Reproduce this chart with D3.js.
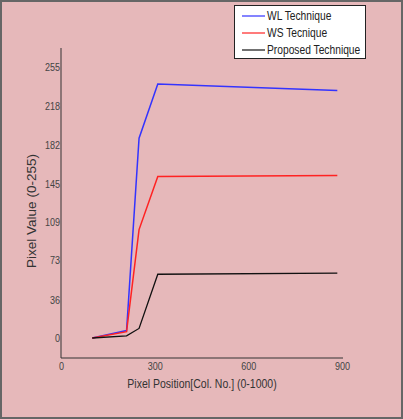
<!DOCTYPE html>
<html><head><meta charset="utf-8">
<script src="https://cdn.jsdelivr.net/npm/d3@7"></script>
<style>
html,body{margin:0;padding:0;background:#e6b8ba;}
svg{display:block;}
</style></head>
<body>
<script>
const xVals = [100, 210, 250, 310, 885];
const wlValues = [0, 7, 188, 239, 233];
const wsValues = [0, 6, 102, 152, 153];
const propValues = [0, 2, 9, 60, 61];
const seriesNames = ["WL Technique", "WS Tecnique", "Proposed Technique"];
const seriesColors = ["#3333ff", "#ff2222", "#111111"];
const xTicks = [0, 300, 600, 900];
const yTicks = [0, 36, 73, 109, 145, 182, 218, 255];

const W = 403, H = 419;
const svg = d3.select("body").append("svg").attr("width", W).attr("height", H);
svg.append("rect").attr("x",1).attr("y",1).attr("width",W-2).attr("height",H-2)
  .attr("fill","#e6b8ba").attr("stroke","#666").attr("stroke-width",2);

const fam = "'Liberation Sans',Arial,sans-serif";
function condense(sel, f) {
  sel.each(function() {
    const l = this.getComputedTextLength();
    d3.select(this).attr("textLength", l * f).attr("lengthAdjust", "spacingAndGlyphs");
  });
}
const x = d3.scaleLinear().domain([0, 900]).range([61, 342]);
const y = d3.scaleLinear().domain([0, 255]).range([338, 67]);
const yBottom = 358, yTop = 48;

const xAxis = svg.append("g").attr("transform", `translate(0,${yBottom})`)
  .call(d3.axisBottom(x).tickValues(xTicks).tickSize(0).tickPadding(4).tickFormat(d3.format("d")));
const yAxis = svg.append("g").attr("transform", `translate(61,0)`)
  .call(d3.axisLeft(y).tickValues(yTicks).tickSize(0).tickPadding(1).tickFormat(d3.format("d")));
[xAxis, yAxis].forEach(a => {
  a.select(".domain").remove();
  a.selectAll("text").attr("font-family", fam).attr("font-size", 11).attr("fill", "#444");
  condense(a.selectAll("text"), 0.82);
});
svg.append("line").attr("x1",61).attr("x2",61).attr("y1",yTop).attr("y2",yBottom).attr("stroke","#333");
svg.append("line").attr("x1",61).attr("x2",343).attr("y1",yBottom).attr("y2",yBottom).attr("stroke","#333");

const line = d3.line().x((d,i) => x(xVals[i])).y(d => y(d));
[wlValues, wsValues, propValues].forEach((vals, k) => {
  svg.append("path").attr("d", line(vals)).attr("fill","none")
    .attr("stroke", seriesColors[k]).attr("stroke-width", k===2 ? 1.3 : 1.5);
});

const xt = svg.append("text").attr("x", 202).attr("y", 388).attr("text-anchor","middle")
  .attr("font-family", fam).attr("font-size", 12.5).attr("fill","#333")
  .text("Pixel Position[Col. No.] (0-1000)");
condense(xt, 0.84);
svg.append("text").attr("transform","translate(36,211) rotate(-90)").attr("text-anchor","middle")
  .attr("font-family",fam).attr("font-size", 13.5).attr("fill","#333")
  .text("Pixel Value (0-255)");

const lg = svg.append("g");
lg.append("rect").attr("x",234.5).attr("y",5.5).attr("width",131).attr("height",53)
  .attr("fill","#fff").attr("stroke","#222");
seriesNames.forEach((n,i) => {
  const yy = 16 + i*17;
  lg.append("line").attr("x1",242).attr("x2",265).attr("y1",yy).attr("y2",yy)
    .attr("stroke", seriesColors[i]).attr("stroke-width",1.2);
  const t = lg.append("text").attr("x",267).attr("y",yy+4).attr("font-family",fam)
    .attr("font-size",12.5).attr("fill","#222").text(n);
  condense(t, 0.82);
});
</script>
</body></html>
